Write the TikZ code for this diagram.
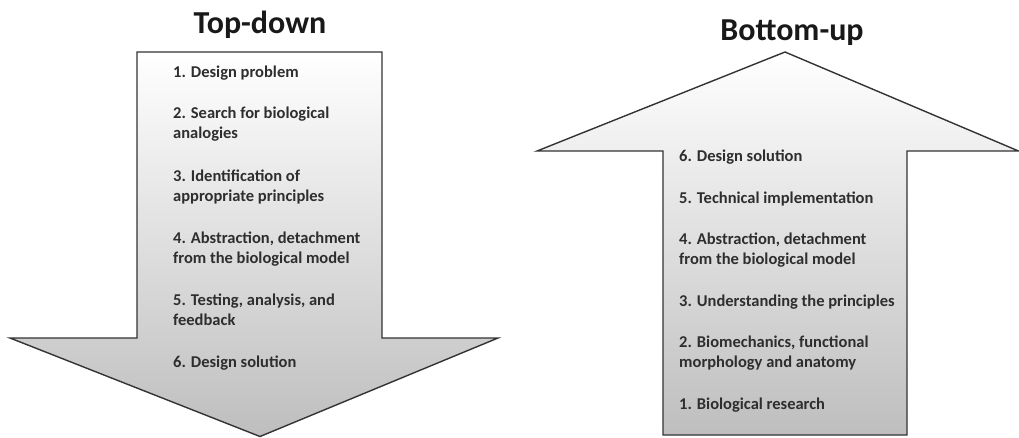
\documentclass[tikz,border=0pt]{standalone}
\usepackage{fontspec}
\setmainfont{Carlito}
\definecolor{edge}{HTML}{333333}
\definecolor{shadebot}{HTML}{BEBEBE}
\begin{document}
\begin{tikzpicture}[x=1pt,y=-1pt,
  arrowshape/.style={draw=edge,line width=1.4pt,line join=miter,top color=white,bottom color=shadebot},
  titletext/.style={font=\fontsize{32}{36}\selectfont\bfseries,anchor=base,inner sep=0pt,text=black!90},
  item/.style={font=\fontsize{16.5}{19.8}\selectfont\bfseries,anchor=base west,inner sep=0pt,align=left,text=black!82}]
\useasboundingbox (0,0) rectangle (1019,437);
% Top-down arrow
\path[arrowshape] (137,52) -- (382,52) -- (382,338) -- (498,338) -- (260,436.5) -- (10,338) -- (137,338) -- cycle;
% Bottom-up arrow
\path[arrowshape] (663,435) -- (663,151) -- (537,151) -- (785,52) -- (1018.5,151) -- (907,151) -- (907,435) -- cycle;
\node[titletext] (td) at (260,33) {Top-down};
\node[titletext] (bu) at (792,40) {Bottom-up};
% left items (anchored at the baseline of their last line)
\node[item] (l1) at (173,77) {1. Design problem};
\node[item] (l2) at (173,138.5) {2. Search for biological\\analogies};
\node[item] (l3) at (173,201) {3. Identification of\\appropriate principles};
\node[item] (l4) at (173,263) {4. Abstraction, detachment\\from the biological model};
\node[item] (l5) at (173,325) {5. Testing, analysis, and\\feedback};
\node[item] (l6) at (173,367) {6. Design solution};
% right items
\node[item] (r6) at (679,161) {6. Design solution};
\node[item] (r5) at (679,203) {5. Technical implementation};
\node[item] (r4) at (679,264) {4. Abstraction, detachment\\from the biological model};
\node[item] (r3) at (679,306) {3. Understanding the principles};
\node[item] (r2) at (679,367) {2. Biomechanics, functional\\morphology and anatomy};
\node[item] (r1) at (679,409) {1. Biological research};
\end{tikzpicture}
\end{document}
